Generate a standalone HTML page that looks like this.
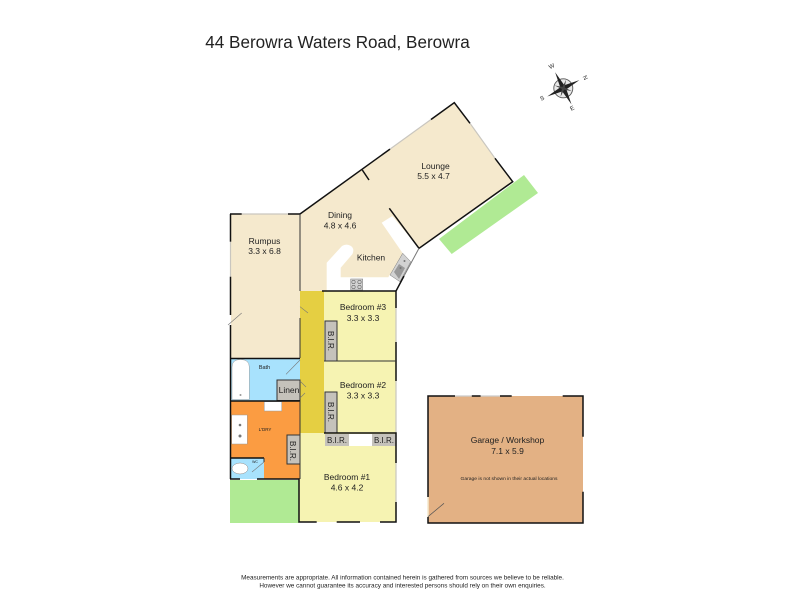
<!DOCTYPE html>
<html><head><meta charset="utf-8"><style>
html,body{margin:0;padding:0;background:#fff}
svg{display:block}
text{font-family:"Liberation Sans",sans-serif;fill:#222;text-anchor:middle}
</style></head><body>
<svg width="800" height="600" viewBox="0 0 800 600" xmlns="http://www.w3.org/2000/svg">
<rect width="800" height="600" fill="#fff"/>
<text x="337.500" y="48" font-size="17.100" fill="#111">44 Berowra Waters Road, Berowra</text>

<!-- outdoor green -->
<polygon points="524,175 538,193 451.700,254 439,239" fill="#b0ea94"/>
<rect x="230" y="480" width="69" height="43" fill="#b0ea94"/>

<!-- Living -->
<polygon points="300,214 454.300,102.700 512.700,181.700 419,248.300 396,291 300,291" fill="#f5e9cd"/>
<rect x="231" y="214" width="69" height="145" fill="#f5e9cd"/>
<!-- Kitchen counters -->
<path d="M392.300,216 L381.700,222.700 L402.700,253.300 L388.300,277.300 L340.700,277.300 L340.700,267.700 L352.500,254 Q355,248 350,245.500 Q346,243.500 342,246 L326.700,262.700 L326.700,291 L396,291 L419,248.300 Z" fill="#fff"/>
<g fill="#d2d2d2" stroke="#777" stroke-width=".5">
<rect x="350.700" y="279" width="12" height="11"/>
<polygon points="402.700,253.300 410.700,261.700 400,281.700 390,275"/>
</g>
<g fill="none" stroke="#666" stroke-width=".6">
<circle cx="353.500" cy="282" r="1.700"/><circle cx="359.500" cy="282" r="1.700"/><circle cx="353.500" cy="287" r="1.700"/><circle cx="359.500" cy="287" r="1.700"/>
</g>
<polygon points="394,272 399,264 405,268 399,279" fill="#999"/>
<circle cx="404.500" cy="261" r="1" fill="#777"/><circle cx="400.500" cy="268" r="1" fill="#777"/>

<!-- Bedrooms -->
<rect x="324" y="291" width="72" height="142" fill="#f6f3b2"/>
<rect x="299" y="433" width="97" height="89" fill="#f6f3b2"/>
<!-- Hall -->
<rect x="300" y="291" width="24" height="142" fill="#e5cf42"/>

<!-- Bath -->
<rect x="231" y="358" width="69" height="43" fill="#a8e2fd"/>
<path d="M232,399.500 L232,367 Q232,359.500 240.500,359.500 Q249.300,359.500 249.300,367 L249.300,399.500 Z" fill="#fff" stroke="#999" stroke-width=".5"/>
<circle cx="240.500" cy="395" r="1" fill="#999"/>
<!-- Laundry -->
<rect x="231" y="401" width="69" height="78" fill="#fb9c42"/>
<rect x="231" y="458" width="33" height="21" fill="#a8e2fd"/>
<rect x="231.700" y="415" width="15.600" height="29" fill="#fff" stroke="#999" stroke-width=".5"/>
<rect x="264.300" y="401.700" width="17.400" height="9.300" fill="#fff" stroke="#999" stroke-width=".5"/>
<ellipse cx="240" cy="468.500" rx="8" ry="5.500" fill="#fff" stroke="#888" stroke-width=".5"/>
<circle cx="240" cy="425" r="1.300" fill="#777"/><circle cx="240" cy="436" r="1.500" fill="#777"/>

<!-- Built-ins -->
<g fill="#c5c2bb" stroke="#333" stroke-width="1">
<rect x="277" y="380" width="23" height="20.500"/>
<rect x="325" y="321" width="12" height="40"/>
<rect x="325" y="392" width="12" height="41"/>
<rect x="287" y="435" width="13" height="29"/>
</g>
<g fill="#c5c2bb">
<rect x="325" y="434" width="24" height="12"/>
<rect x="372" y="434" width="24" height="12"/>
</g>
<rect x="349" y="434" width="23" height="12" fill="#fff"/>

<!-- Windows -->
<g fill="none" stroke="#c9c6bf" stroke-width="1.200">
<path d="M390,149.100 L431,119.500"/>
<path d="M470,123.300 L495,158.300"/>
<path d="M241.700,214 L288,214"/>
<path d="M230.500,241.700 L230.500,276.700"/>
<path d="M396,308 L396,342"/>
<path d="M396,381 L396,433"/>
<path d="M396,463 L396,502"/>
</g>

<!-- Walls -->
<g fill="none" stroke="#111" stroke-width="1.500">
<path d="M300,214 L390,149.100"/>
<path d="M431,119.500 L454.300,102.700 L470,123.300"/>
<path d="M495,158.300 L512.700,181.700 L419,248.300 L389.300,208.300"/>
<path d="M362.300,170 L369,180"/>
<path d="M404,276 L396,291 L396,308"/>
<path d="M230,214 L241.700,214"/>
<path d="M288,214 L300,214"/>
<path d="M230.500,214 L230.500,241.700"/>
<path d="M230.500,276.700 L230.500,315"/>
<path d="M230.500,325 L230.500,479"/>
<path d="M230.500,358.500 L300,358.500"/>
<path d="M231,401 L300,401"/>
<path d="M230,479 L240,479"/>
<path d="M257,479 L299.500,479"/>
<path d="M299,479 L299,522 L316.700,522"/>
<path d="M336.700,522 L360,522"/>
<path d="M380,522 L396,522 L396,502"/>
<path d="M396,463 L396,433 L324,433"/>
<path d="M322,291 L396,291"/>
<path d="M396,342 L396,381"/>
<path d="M264,458 L231,458"/>
</g>
<g fill="none" stroke="#333" stroke-width="1">
<path d="M300,214 L300,291"/>
<path d="M300,318 L300,358"/>
<path d="M324,361 L396,361"/>
<path d="M300,401 L300,479"/>
<path d="M264,458 L264,462"/>
</g>
<path d="M419,248.300 L404,276" stroke="#777" stroke-width="1" fill="none"/>
<!-- Door swings -->
<g fill="none" stroke="#777" stroke-width=".6">
<path d="M300,306.700 L308,313"/><path d="M300,381 L306,387"/><path d="M300,398 L305,393"/>
<path d="M300,360 L286,374.300"/><path d="M264,462 L252,472"/>
<path d="M228,325 L241.700,313"/>
</g>

<!-- Garage -->
<rect x="428" y="396" width="155" height="127" fill="#e3b184"/>
<path d="M428,497 L428,517" stroke="#f5e9cd" stroke-width="1.500" fill="none"/>
<g fill="none" stroke="#111" stroke-width="1.500">
<path d="M428,497 L428,396 L455,396"/>
<path d="M471.700,396 L480.700,396"/><path d="M500,396 L511.700,396"/>
<path d="M562.700,396 L583,396 L583,436.700"/>
<path d="M583,491.700 L583,523 L428,523 L428,517"/>
</g>
<g fill="none" stroke="#ccc" stroke-width="1.200">
<path d="M455,396 L471.700,396"/><path d="M480.700,396 L500,396"/>
</g>
<path d="M428,516.700 L444,503.300" stroke="#555" stroke-width=".7" fill="none"/>

<!-- Labels -->
<text x="435.500" y="169" font-size="8.500">Lounge</text>
<text x="433.500" y="179" font-size="8.500">5.5 x 4.7</text>
<text x="340" y="218" font-size="8.500">Dining</text>
<text x="340" y="228.500" font-size="8.500">4.8 x 4.6</text>
<text x="371" y="260.500" font-size="8.500">Kitchen</text>
<text x="264.500" y="244" font-size="8.500">Rumpus</text>
<text x="264.500" y="254" font-size="8.500">3.3 x 6.8</text>
<text x="363" y="310" font-size="8.500">Bedroom #3</text>
<text x="363" y="321" font-size="8.500">3.3 x 3.3</text>
<text x="363" y="388" font-size="8.500">Bedroom #2</text>
<text x="363" y="398.500" font-size="8.500">3.3 x 3.3</text>
<text x="347" y="480" font-size="8.500">Bedroom #1</text>
<text x="347" y="490.500" font-size="8.500">4.6 x 4.2</text>
<text x="264.500" y="369" font-size="5.500">Bath</text>
<text x="289" y="393" font-size="8.500">Linen</text>
<text x="265" y="431" font-size="4.500">L'DRY</text>
<text x="255" y="463" font-size="3.500">WC</text>
<text x="337" y="443" font-size="8">B.I.R.</text>
<text x="384" y="443" font-size="8">B.I.R.</text>
<text transform="translate(328,341) rotate(90)" font-size="8">B.I.R.</text>
<text transform="translate(328,412) rotate(90)" font-size="8">B.I.R.</text>
<text transform="translate(290,451) rotate(90)" font-size="8">B.I.R.</text>
<text x="507.500" y="443" font-size="8.500">Garage / Workshop</text>
<text x="507.500" y="454" font-size="8.500">7.1 x 5.9</text>
<text x="509" y="480" font-size="4.950">Garage is not shown in their actual locations</text>

<!-- Compass -->
<g transform="translate(563.300,88.300)">
<circle r="9.500" fill="#e8e8e8" stroke="#555" stroke-width=".9"/>
<g transform="rotate(-27)">
<polygon points="0,-18 2.200,-3 0,0 -2.200,-3" fill="#222"/>
<polygon points="0,18 2.200,3 0,0 -2.200,3" fill="#222"/>
<polygon points="-18,0 -3,-2.200 0,0 -3,2.200" fill="#222"/>
<polygon points="18,0 3,-2.200 0,0 3,2.200" fill="#222"/>
<g transform="rotate(45)"><polygon points="0,-9 1.300,0 0,9 -1.300,0" fill="#444"/><polygon points="-9,0 0,-1.300 9,0 0,1.300" fill="#444"/></g>
</g>
</g>
<text x="552.500" y="68" font-size="6" transform="rotate(-27 552.500 68)">W</text>
<text x="583.500" y="78.500" font-size="6" transform="rotate(63 583.500 78.500)">N</text>
<text x="543" y="100" font-size="6" transform="rotate(-27 543 100)">S</text>
<text x="573" y="110" font-size="6" transform="rotate(-27 573 110)">E</text>

<!-- Footer -->
<text x="402.500" y="579.500" font-size="6.370">Measurements are appropriate. All information contained herein is gathered from sources we believe to be reliable.</text>
<text x="402.500" y="587.500" font-size="6.370">However we cannot guarantee its accuracy and interested persons should rely on their own enquiries.</text>
</svg>
</body></html>
